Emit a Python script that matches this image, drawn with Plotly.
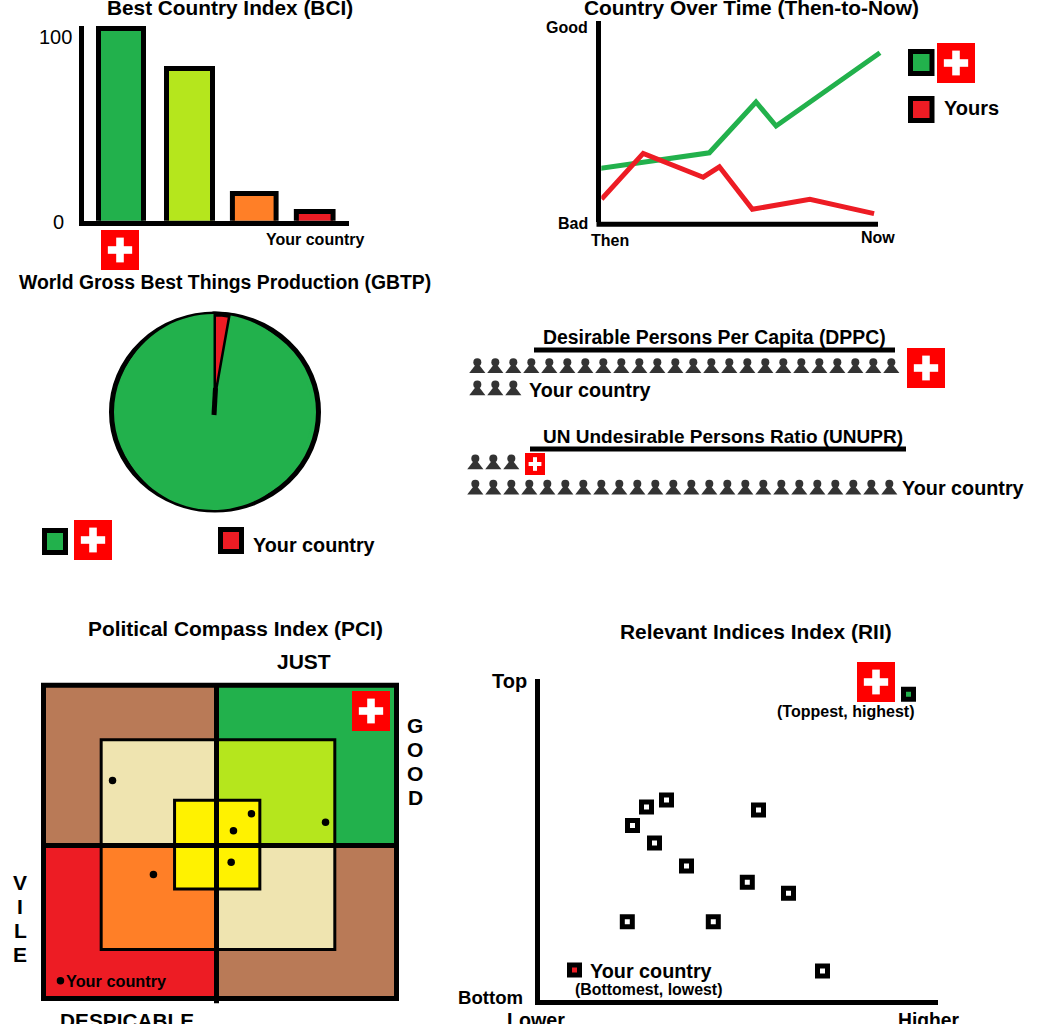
import plotly.graph_objects as go

W, H = 1049, 1024
FONT = "Liberation Sans"

GREEN = "#22B14C"
LIME = "#B5E61D"
ORANGE = "#FF7F27"
RED = "#ED1C24"
BROWN = "#B97A57"
BEIGE = "#EFE4B0"
YELLOW = "#FFF200"
FLAG_RED = "#FF0000"
PERSON = "#333333"

# Best Country Index
bci_x = [0, 1.054, 2.05, 2.98]
bci_width = [0.692, 0.708, 0.672, 0.565]
bci_values = [104.6, 83.1, 15.9, 6.3]
bci_colors = [GREEN, LIME, ORANGE, RED]

# Country over time
swiss_time = [0.4, 39.6, 56.3, 63.5, 100.7]
swiss_score = [28.4, 36.3, 62.1, 49.9, 87.1]
yours_time = [1.0, 15.9, 37.4, 43.2, 55.0, 75.6, 98.6]
yours_score = [12.8, 36.0, 23.9, 29.2, 7.6, 12.7, 5.4]

# GBTP pie
pie_labels = ["Your country", "Switzerland"]
pie_values = [2.8, 97.2]

# people icons per row, top row first
dppc_counts = [24, 3]
unupr_counts = [3, 24]

# Political compass
pci_x = [-59.5, 20.0, 9.7, 62.4, 8.4, -36.1, -89.3]
pci_y = [37.2, 18.1, 8.4, 13.2, -9.7, -16.6, -77.5]

# Relevant indices
rii_x = [32.2, 27.2, 23.7, 29.2, 55.2, 37.2, 52.4, 62.7, 22.4, 43.9, 71.2]
rii_y = [62.6, 60.5, 54.7, 49.3, 59.5, 42.2, 37.2, 33.8, 24.9, 24.9, 9.7]
rii_swiss = (92.7, 95.4)
rii_yours = (9.2, 10.0)

fig = go.Figure()
layout = {}
shapes = []
annotations = []

# overlay axes in page pixels, for text and the little flags
layout["xaxis"] = dict(domain=[0, 1], range=[0, W], visible=False, fixedrange=True, automargin=False)
layout["yaxis"] = dict(domain=[0, 1], range=[H, 0], visible=False, fixedrange=True, automargin=False)


def panel(n, ox, oy, sx, sy, right, top, lw=0, x_at_o=0, y_at_o=0, show=True):
    # ox, oy = page pixel of the axis corner, sx, sy = pixels per data unit
    left = ox + lw / 2
    bottom = oy - lw / 2
    xr = [x_at_o + (lw / 2) / sx, x_at_o + (right - ox) / sx]
    yr = [y_at_o + (lw / 2) / sy, y_at_o + (oy - top) / sy]
    base = dict(showgrid=False, zeroline=False, showticklabels=False, ticks="", automargin=False,
                fixedrange=True, showline=show, linecolor="black", linewidth=lw)
    layout[f"xaxis{n}"] = dict(base, domain=[left / W, right / W], range=xr, anchor=f"y{n}")
    layout[f"yaxis{n}"] = dict(base, domain=[1 - bottom / H, 1 - top / H], range=yr, anchor=f"x{n}")


def label(x, y, text, size=19.8, bold=True):
    annotations.append(dict(x=x, y=y, xref="x", yref="y", text=f"<b>{text}</b>" if bold else text,
                            showarrow=False, xanchor="center", yanchor="middle",
                            font=dict(family=FONT, size=size, color="black")))


def rect(x0, y0, x1, y1, fill=None, lw=0, xref="x", yref="y", layer="above"):
    shapes.append(dict(type="rect", x0=x0, y0=y0, x1=x1, y1=y1, xref=xref, yref=yref, layer=layer,
                       fillcolor=fill if fill else "rgba(0,0,0,0)",
                       line=dict(color="black", width=lw)))


def flag(cx, cy, w=38, h=40):
    rect(cx - w / 2, cy - h / 2, cx + w / 2, cy + h / 2, FLAG_RED)
    arm_w, arm_h = w * 0.32, h * 0.31
    t = w * 0.2
    rect(cx - arm_w, cy - t / 2, cx + arm_w, cy + t / 2, "white")
    rect(cx - t / 2, cy - arm_h, cx + t / 2, cy + arm_h, "white")


def swatch(x0, y0, x1, y1, color):
    rect(x0 + 2.5, y0 + 2.5, x1 - 2.5, y1 - 2.5, color, lw=5)


def people(counts, n, sy):
    xs, ys = [], []
    for row, count in enumerate(counts):
        for i in range(count):
            xs.append(i)
            ys.append(len(counts) - 1 - row)
    fig.add_trace(go.Scatter(x=xs, y=[v - 3.8 / sy for v in ys], mode="markers", xaxis=f"x{n}", yaxis=f"y{n}",
                             marker=dict(symbol="triangle-up", size=14, color=PERSON), cliponaxis=False,
                             hoverinfo="skip"))
    fig.add_trace(go.Scatter(x=xs, y=[v + 3.5 / sy for v in ys], mode="markers", xaxis=f"x{n}", yaxis=f"y{n}",
                             marker=dict(symbol="circle", size=8, color=PERSON), cliponaxis=False,
                             hoverinfo="skip"))


# ---- BCI bars
panel(2, 81.7, 223.2, 65, 1.862, 349.3, 25.5, lw=5, x_at_o=(81.7 - 121) / 65)
fig.add_trace(go.Bar(x=bci_x, y=bci_values, width=bci_width, xaxis="x2", yaxis="y2", cliponaxis=False,
                     marker=dict(color=bci_colors, line=dict(color="black", width=5))))
label(230, 7, "Best Country Index (BCI)", 20.8)
label(55, 37, "100", 20, bold=False)
label(58, 222, "0", 20, bold=False)
label(314.5, 239, "Your country", 16)
flag(120, 250)

# ---- line chart, panel runs a bit past the axis end so the green line is not cut
panel(3, 598.8, 224.3, 2.792, 1.97, 886, 21, lw=5)
layout["xaxis3"].update(linecolor="rgba(0,0,0,0)")
shapes.append(dict(type="line", x0=596.5, x1=878, y0=224.3, y1=224.3, xref="x", yref="y",
                   line=dict(color="black", width=5)))
fig.add_trace(go.Scatter(x=swiss_time, y=swiss_score, mode="lines", xaxis="x3", yaxis="y3", cliponaxis=False,
                         line=dict(color=GREEN, width=5)))
fig.add_trace(go.Scatter(x=yours_time, y=yours_score, mode="lines", xaxis="x3", yaxis="y3", cliponaxis=False,
                         line=dict(color=RED, width=5)))
label(751, 7, "Country Over Time (Then-to-Now)", 20.9)
label(567, 27, "Good", 16)
label(572.5, 223, "Bad", 16)
label(610, 240, "Then", 16)
label(878, 237, "Now", 16)
swatch(908, 49, 934.5, 76, GREEN)
flag(956, 63)
swatch(908, 96, 934.5, 123, RED)
label(971, 108, "Yours", 20)

# ---- pie, the drawn circle is a bit wider than tall so it sits on an ellipse
shapes.append(dict(type="circle", x0=111.5, y0=314, x1=318.5, y1=510, xref="x", yref="y", layer="below",
                   fillcolor=GREEN, line=dict(color="black", width=5)))
fig.add_trace(go.Pie(labels=pie_labels, values=pie_values, sort=False, direction="clockwise", rotation=0,
                     textinfo="none", hoverinfo="label+percent",
                     domain=dict(x=[(213.5 - 98) / W, (213.5 + 98) / W], y=[1 - 510 / H, 1 - 314 / H]),
                     marker=dict(colors=[RED, GREEN], line=dict(color="black", width=[5, 0]))))
shapes.append(dict(type="line", x0=215.5, x1=214, y0=388, y1=415, xref="x", yref="y",
                   line=dict(color="black", width=5)))
label(224.5, 282, "World Gross Best Things Production (GBTP)", 19.4)
swatch(42, 528, 68, 555, GREEN)
flag(93, 540)
swatch(218, 527, 244, 554, RED)
label(314, 545, "Your country")

# ---- people rows
panel(6, 468, 400, 18, 22.3, 900, 350, show=False, x_at_o=-0.517, y_at_o=-0.54)
people(dppc_counts, 6, 22.3)
label(714, 337, "Desirable Persons Per Capita (DPPC)", 19.4)
label(590, 390, "Your country")
shapes.append(dict(type="line", x0=534, x1=895, y0=350, y1=350, xref="x", yref="y", line=dict(color="black", width=5)))
flag(926, 368)

panel(7, 466, 500, 18, 25.3, 900, 450, show=False, x_at_o=-0.517, y_at_o=-0.502)
people(unupr_counts, 7, 25.3)
label(722.5, 436, "UN Undesirable Persons Ratio (UNUPR)", 19)
label(963, 488, "Your country")
shapes.append(dict(type="line", x0=530, x1=906, y0=449, y1=449, xref="x", yref="y", line=dict(color="black", width=5)))
flag(535, 464, 20, 22)

# ---- compass, panel has some padding so the frame is not clipped
pad = 6
panel(4, 43.5 - pad, 998.5 + pad, 1.7475, 1.7475, 396.5 + pad, 685.5 - pad, show=False,
      x_at_o=-99 - pad / 1.7475, y_at_o=-87.6 - pad / 1.7475)
xl, xr, yb, yt = -99, 103, -87.6, 91.6
for x0, y0, x1, y1, c in [(xl, 0, 0, yt, BROWN), (0, 0, xr, yt, GREEN), (xl, yb, 0, 0, RED), (0, yb, xr, 0, BROWN),
                          (-66, 0, 0, 60.4, BEIGE), (0, 0, 67.7, 60.4, LIME), (-66, -59.5, 0, 0, ORANGE), (0, -59.5, 67.7, 0, BEIGE)]:
    rect(x0, y0, x1, y1, c, xref="x4", yref="y4", layer="below")
rect(-66, -59.5, 67.7, 60.4, None, lw=3, xref="x4", yref="y4", layer="below")
rect(-24, -25, 24.8, 25.9, YELLOW, lw=3, xref="x4", yref="y4", layer="below")
rect(xl, yb, xr, yt, None, lw=5, xref="x4", yref="y4", layer="below")
shapes.append(dict(type="line", x0=0, x1=0, y0=-90.3, y1=yt, xref="x4", yref="y4", layer="below", line=dict(color="black", width=5)))
shapes.append(dict(type="line", x0=xl, x1=xr, y0=0, y1=0, xref="x4", yref="y4", layer="below", line=dict(color="black", width=5)))
fig.add_trace(go.Scatter(x=pci_x, y=pci_y, mode="markers", xaxis="x4", yaxis="y4",
                         marker=dict(color="black", size=7.5)))
label(235.5, 628, "Political Compass Index (PCI)", 20.9)
label(304, 661, "JUST", 21)
label(127, 1020, "DESPICABLE", 20.8)
label(116, 981, "Your country", 16.3)
flag(371, 711)
for i, ch in enumerate("GOOD"):
    label(415, 725 + 24 * i, ch, 21)
for i, ch in enumerate("VILE"):
    label(20, 882 + 24 * i, ch, 21)

# ---- relevant indices scatter
panel(5, 537.7, 1002.3, 4, 3.23, 937.7, 679.3, lw=4.5)
fig.add_trace(go.Scatter(x=rii_x, y=rii_y, mode="markers", xaxis="x5", yaxis="y5", cliponaxis=False,
                         marker=dict(symbol="square", size=10, color="white", line=dict(color="black", width=5))))
fig.add_trace(go.Scatter(x=[rii_swiss[0]], y=[rii_swiss[1]], mode="markers", xaxis="x5", yaxis="y5", cliponaxis=False,
                         marker=dict(symbol="square", size=10, color=GREEN, line=dict(color="black", width=5))))
fig.add_trace(go.Scatter(x=[rii_yours[0]], y=[rii_yours[1]], mode="markers", xaxis="x5", yaxis="y5", cliponaxis=False,
                         marker=dict(symbol="square", size=10, color=RED, line=dict(color="black", width=5))))
label(756, 631, "Relevant Indices Index (RII)", 20.9)
label(509, 681, "Top", 20)
label(490, 997, "Bottom", 18.6)
label(536, 1020, "Lower", 19.7)
label(929, 1020, "Higher", 19.3)
label(845, 711, "(Toppest, highest)", 16)
label(651, 971, "Your country")
label(648, 989, "(Bottomest, lowest)", 15.9)
flag(876, 682)

fig.update_layout(width=W, height=H, margin=dict(l=0, r=0, t=0, b=0), showlegend=False,
                  paper_bgcolor="white", plot_bgcolor="rgba(0,0,0,0)",
                  shapes=shapes, annotations=annotations, **layout)
fig.write_html("out.html", config={"displayModeBar": False},
               post_script="document.body.style.margin='0';document.body.style.overflow='hidden';")
